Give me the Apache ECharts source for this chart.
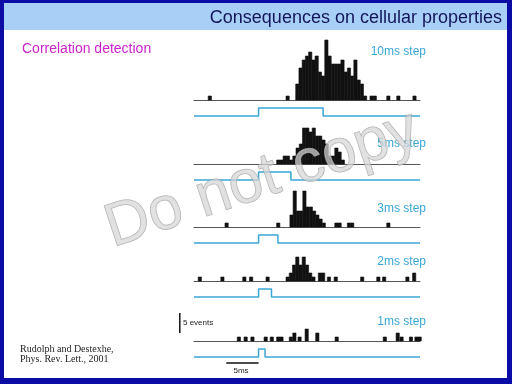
<!DOCTYPE html>
<html><head><meta charset="utf-8">
<script src="https://cdn.jsdelivr.net/npm/echarts@6/dist/echarts.min.js"></script>
<style>html,body{margin:0;padding:0;background:#fff}#c{width:512px;height:384px}</style>
</head><body><div id="c"></div>
<script>
// ---- data (times in ms relative to step onset, counts in events) ----
const stepLabels = ['10ms step', '5ms step', '3ms step', '2ms step', '1ms step'];
const stepDurations = [10, 5, 3, 2, 1];
const BIN = 0.5; // histogram bin width (ms)
const timeRange = [-10, 25];

const burst10Start = 5.75;
const burst10 = [4, 8, 10, 11, 12, 10, 11, 7, 6, 15, 11, 9, 9, 9, 10, 7, 8, 6, 10, 5, 4, 1];
const spikes10 = [[-7.8, 1], [4.25, 1], [17.25, 1], [17.75, 1], [19.85, 1], [21.4, 1], [23.9, 1]];

const burst5Start = 2.8;
const burst5 = [1, 1, 2, 2, 1, 2, 4, 5, 9, 9, 8, 9, 7, 7, 6, 5, 2, 2, 4, 3, 1];
const spikes5 = [];

const burst3Start = 4.85;
const burst3 = [3, 9, 4, 4, 9, 5, 5, 4, 3, 2, 1];
const spikes3 = [[-5.2, 1], [2.8, 1], [11.8, 1], [12.3, 1], [13.75, 1], [14.25, 1], [19.85, 1]];

const burst2Start = 4.25;
const burst2 = [1, 2, 4, 6, 4, 6, 4, 2, 1];
const spikes2 = [[-9.35, 1], [-5.85, 1], [-2.45, 1], [-1.4, 1], [1.15, 1], [9.25, 2], [9.75, 2], [10.65, 1], [11.7, 1], [15.8, 1], [18.3, 1], [19.2, 1], [22.8, 1], [23.85, 2]];

const burst1Start = 0;
const burst1 = [];
const spikes1 = [[-3.3, 1], [-2.25, 1], [-1.2, 1], [0.85, 1], [1.8, 1], [2.8, 1], [3.3, 1], [4.75, 1], [5.3, 2], [6.1, 1], [7.2, 3], [8.85, 2], [11.85, 1], [19.3, 1], [21.3, 2], [21.9, 1], [23.35, 1], [24.2, 1], [24.7, 1]];

const scaleEvents = 5;   // vertical scale bar (events)
const scaleTime = 5;     // horizontal scale bar (ms)

// ---- layout ----
const bursts = [[burst10Start, burst10], [burst5Start, burst5], [burst3Start, burst3], [burst2Start, burst2], [burst1Start, burst1]];
const spikes = [spikes10, spikes5, spikes3, spikes2, spikes1];
const baselines = [100, 164, 227, 281, 341];
const yMax = [16, 10, 10, 7, 8];
const yMin = [-5, -5, -5, -5, -6];
const PX_PER_EVENT = 4;
const STEP_LOW = -4, STEP_HIGH = -2;
const labelY = [52, 144, 209, 262, 322];

const grids = [], xAxes = [], yAxes = [], series = [];
const CYAN = '#3aa6d6';

function histData(i) {
  const [start, counts] = bursts[i];
  const d = counts.map((n, k) => [start + k * BIN, n]);
  return d.concat(spikes[i]);
}

for (let i = 0; i < 5; i++) {
  grids.push({left: 194, width: 226, top: baselines[i] - yMax[i] * PX_PER_EVENT,
              height: (yMax[i] - yMin[i]) * PX_PER_EVENT, containLabel: false});
  xAxes.push({type: 'value', gridIndex: i, min: timeRange[0], max: timeRange[1],
    axisLine: {show: true, onZero: true, lineStyle: {color: '#555', width: 1}},
    axisTick: {show: false}, axisLabel: {show: false}, splitLine: {show: false}});
  yAxes.push({type: 'value', gridIndex: i, min: yMin[i], max: yMax[i], show: false,
    splitLine: {show: false}});
  series.push({
    type: 'custom', xAxisIndex: i, yAxisIndex: i, z: 5,
    data: histData(i),
    renderItem: function (params, api) {
      const t = api.value(0), n = api.value(1);
      const p0 = api.coord([t, 0]);
      const p1 = api.coord([t + BIN, n]);
      return {type: 'rect', shape: {x: p0[0], y: p1[1], width: p1[0] - p0[0], height: p0[1] - p1[1]},
              style: {fill: '#111', stroke: '#111', lineWidth: 0.6}};
    }
  });
  const d = stepDurations[i];
  series.push({
    type: 'line', xAxisIndex: i, yAxisIndex: i, symbol: 'none', animation: false,
    lineStyle: {color: CYAN, width: 1.5},
    data: [[timeRange[0], STEP_LOW], [0, STEP_LOW], [0, STEP_HIGH], [d, STEP_HIGH], [d, STEP_LOW], [timeRange[1], STEP_LOW]]
  });
}
// horizontal time scale bar in the last panel
series.push({type: 'line', xAxisIndex: 4, yAxisIndex: 4, symbol: 'none', clip: false,
  lineStyle: {color: '#111', width: 1.5}, data: [[-5, -5.5], [-5 + scaleTime, -5.5]]});

const SANS = '"Liberation Sans", Arial, sans-serif';
const graphic = [
  {type: 'rect', z: -10, shape: {x: 0, y: 0, width: 512, height: 384}, style: {fill: '#0b0ba6'}},
  {type: 'rect', z: -9, shape: {x: 4, y: 3, width: 503, height: 375}, style: {fill: '#ffffff'}},
  {type: 'rect', z: -8, shape: {x: 4, y: 3, width: 503, height: 27}, style: {fill: '#a8d0f7'}},
  {type: 'text', x: 502, y: 18, style: {text: 'Consequences on cellular properties', fill: '#14145a',
    font: '18px ' + SANS, textAlign: 'right', textVerticalAlign: 'middle'}},
  {type: 'text', x: 22, y: 49, style: {text: 'Correlation detection', fill: '#cc22cc',
    font: '14px ' + SANS, textAlign: 'left', textVerticalAlign: 'middle'}},
  {type: 'text', x: 20, y: 349, style: {text: 'Rudolph and Destexhe,', fill: '#222',
    font: '10px "Liberation Serif", serif', textAlign: 'left', textVerticalAlign: 'middle'}},
  {type: 'text', x: 20, y: 359, style: {text: 'Phys. Rev. Lett., 2001', fill: '#222',
    font: '10px "Liberation Serif", serif', textAlign: 'left', textVerticalAlign: 'middle'}},
  {type: 'text', x: 183, y: 323, style: {text: scaleEvents + ' events', fill: '#222',
    font: '8px ' + SANS, textAlign: 'left', textVerticalAlign: 'middle'}},
  {type: 'text', x: 241, y: 371, style: {text: scaleTime + 'ms', fill: '#222',
    font: '8px ' + SANS, textAlign: 'center', textVerticalAlign: 'middle'}}
];
stepLabels.forEach((s, i) => graphic.push({type: 'text', x: 426, y: labelY[i],
  style: {text: s, fill: CYAN, font: '12px ' + SANS, textAlign: 'right', textVerticalAlign: 'middle'}}));
graphic.push({type: 'text', x: 262, y: 180, rotation: 0.32, z: 100, silent: true,
  style: {text: 'Do not copy', fill: 'rgba(214,214,214,0.72)', stroke: 'rgba(150,150,150,0.75)', lineWidth: 1,
    font: '61px ' + SANS, textAlign: 'center', textVerticalAlign: 'middle'}});

const chart = echarts.init(document.getElementById('c'), null, {renderer: 'canvas'});
chart.setOption({
  animation: false,
  backgroundColor: '#ffffff',
  grid: grids, xAxis: xAxes, yAxis: yAxes, series: series, graphic: graphic
});
// vertical event scale bar, placed with the last panel's scales
const pA = chart.convertToPixel({gridIndex: 4}, [-12.2, 2]);
const pB = chart.convertToPixel({gridIndex: 4}, [-12.2, 2 + scaleEvents]);
graphic.push({type: 'line', z: 10, shape: {x1: pA[0], y1: pA[1], x2: pB[0], y2: pB[1]},
  style: {stroke: '#111', lineWidth: 1.5}});
chart.setOption({graphic: graphic});
</script></body></html>
